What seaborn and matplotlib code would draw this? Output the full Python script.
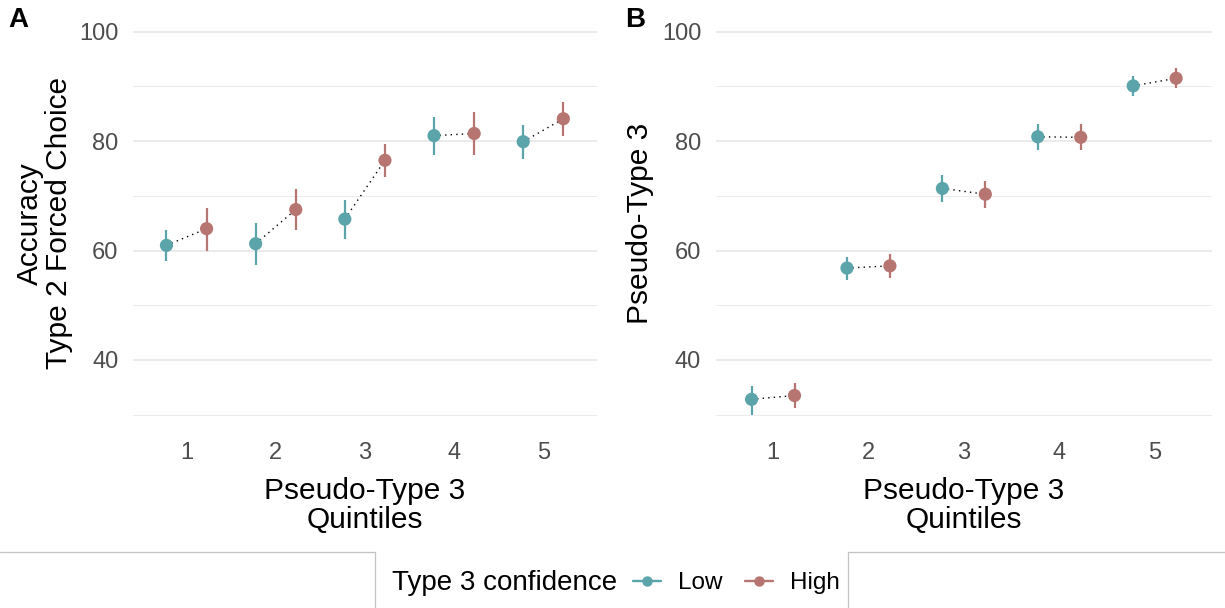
import numpy as np
import pandas as pd
import matplotlib
matplotlib.use("Agg")
import matplotlib.pyplot as plt
import seaborn as sns
from matplotlib.lines import Line2D

sns.set_theme(style="white")
plt.rcParams["font.family"] = ["Liberation Sans", "DejaVu Sans"]
plt.rcParams["text.color"] = "black"
plt.rcParams["axes.labelcolor"] = "black"

# ---------------- data ----------------
quintiles = [1, 2, 3, 4, 5]
conf_levels = ["Low", "High"]

# Panel A: Accuracy, Type 2 forced choice
a_low_mean = [60.95, 61.25, 65.75, 81.0, 79.9]
a_low_lo = [58.0, 57.3, 62.1, 77.4, 76.8]
a_low_hi = [63.8, 65.1, 69.3, 84.5, 83.0]
a_high_mean = [64.0, 67.5, 76.5, 81.4, 84.1]
a_high_lo = [60.0, 63.8, 73.4, 77.4, 81.0]
a_high_hi = [67.8, 71.2, 79.4, 85.3, 87.2]

# Panel B: Pseudo-Type 3
b_low_mean = [32.8, 56.8, 71.35, 80.8, 90.1]
b_low_lo = [30.0, 54.7, 68.9, 78.4, 88.2]
b_low_hi = [35.3, 58.9, 73.8, 83.1, 91.9]
b_high_mean = [33.5, 57.2, 70.3, 80.7, 91.5]
b_high_lo = [31.2, 55.0, 67.7, 78.3, 89.7]
b_high_hi = [35.8, 59.3, 72.7, 83.1, 93.4]

palette = {"Low": "#5BA4A9", "High": "#B77572"}
DODGE = 0.225
W, H = 1225, 608


def make_df(low_m, low_lo, low_hi, high_m, high_lo, high_hi):
    rows = []
    for i, q in enumerate(quintiles):
        rows.append(dict(quintile=q, conf="Low", mean=low_m[i], lo=low_lo[i], hi=low_hi[i]))
        rows.append(dict(quintile=q, conf="High", mean=high_m[i], lo=high_lo[i], hi=high_hi[i]))
    df = pd.DataFrame(rows)
    df["x"] = df["quintile"] + df["conf"].map({"Low": -DODGE, "High": DODGE})
    return df


dfA = make_df(a_low_mean, a_low_lo, a_low_hi, a_high_mean, a_high_lo, a_high_hi)
dfB = make_df(b_low_mean, b_low_lo, b_low_hi, b_high_mean, b_high_lo, b_high_hi)

fig = plt.figure(figsize=(W / 100, H / 100), dpi=100)
axA = fig.add_axes([133 / W, 1 - 433.8 / H, 463.8 / W, 421.2 / H])
axB = fig.add_axes([715.8 / W, 1 - 433.8 / H, 496.1 / W, 421.2 / H])


def draw(ax, df, ylabel, ylab_x):
    sns.lineplot(data=df, x="x", y="mean", units="quintile", estimator=None,
                 color="black", lw=1.0, ls=(0, (1, 3)), ax=ax, zorder=2,
                 legend=False)
    for conf in conf_levels:
        sub = df[df["conf"] == conf]
        ax.vlines(sub["x"], sub["lo"], sub["hi"], color=palette[conf], lw=1.6, zorder=3)
    sns.scatterplot(data=df, x="x", y="mean", hue="conf", palette=palette,
                    s=90, edgecolor="none", linewidth=0, ax=ax, zorder=4,
                    legend=False)
    ax.set_xlim(0.4, 5.6)
    ax.set_ylim(26.5, 103.5)
    ax.set_xticks(quintiles)
    ax.set_xticklabels([str(q) for q in quintiles])
    ax.set_yticks([40, 60, 80, 100])
    ax.set_yticks([30, 50, 70, 90], minor=True)
    ax.set_axisbelow(True)
    ax.grid(False)
    ax.grid(axis="y", which="major", color="#EBEBEB", lw=1.4)
    ax.grid(axis="y", which="minor", color="#EBEBEB", lw=0.7)
    for s in ax.spines.values():
        s.set_visible(False)
    ax.tick_params(axis="both", which="both", length=0, labelsize=17,
                   labelcolor="#4D4D4D")
    ax.tick_params(axis="x", pad=6)
    ax.tick_params(axis="y", pad=10.5)
    ax.set_xlabel("Pseudo-Type 3\nQuintiles", fontsize=21.5, color="black",
                  va="center", linespacing=1.05)
    ax.xaxis.set_label_coords(0.5, -0.171)
    ax.set_ylabel(ylabel, fontsize=21.5, color="black", va="center",
                  linespacing=1.05)
    ax.yaxis.set_label_coords(ylab_x, 0.5)


draw(axA, dfA, "Accuracy\nType 2 Forced Choice", -0.19)
draw(axB, dfB, "Pseudo-Type 3", -0.153)

fig.text(8 / W, 1 - 20 / H, "A", fontsize=20, fontweight="bold", ha="left",
         va="center", color="black")
fig.text(625 / W, 1 - 20 / H, "B", fontsize=20, fontweight="bold", ha="left",
         va="center", color="black")

# legend
handles = [Line2D([0], [0], color=palette[c], marker="o", markersize=7.5,
                  markeredgewidth=0, lw=1.7) for c in conf_levels]
leg = fig.legend(handles, conf_levels, loc="center left",
                 bbox_to_anchor=(633.3 / W, 1 - 583 / H), ncol=2, frameon=False,
                 fontsize=17.5, handlelength=1.13, handletextpad=0.7,
                 columnspacing=0.95, borderpad=0, borderaxespad=0)
for t in leg.get_texts():
    t.set_color("black")
fig.text(392 / W, 1 - 583 / H, "Type 3 confidence", fontsize=20, ha="left",
         va="center", color="black")

# legend box outline
lc = "#C4C4C4"
fig.add_artist(Line2D([0, 375 / W, 375 / W], [1 - 552 / H, 1 - 552 / H, 0],
                      transform=fig.transFigure, color=lc, lw=0.9))
fig.add_artist(Line2D([848 / W, 848 / W, 1], [0, 1 - 552 / H, 1 - 552 / H],
                      transform=fig.transFigure, color=lc, lw=0.9))

fig.savefig("out.png", dpi=100)
